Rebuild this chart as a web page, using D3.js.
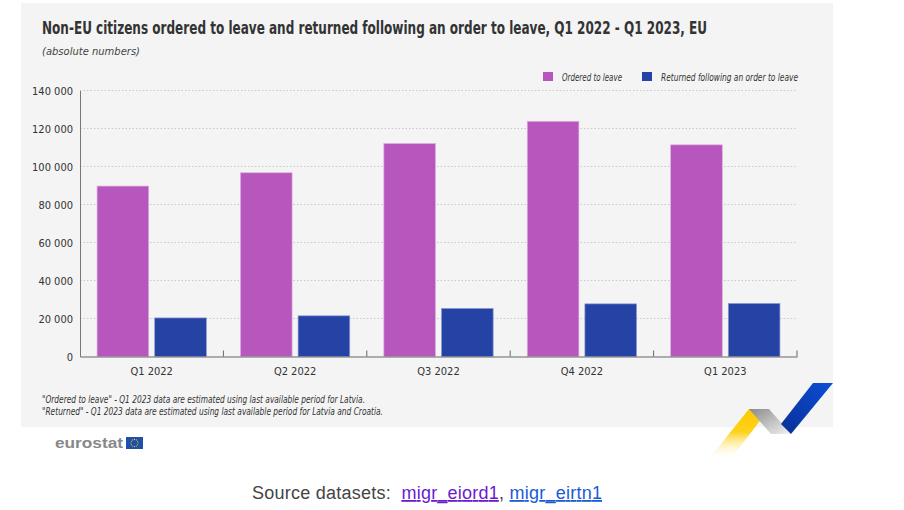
<!DOCTYPE html>
<html>
<head>
  <title>Ordered to leave</title>
  <script type="text/javascript" src="https://d3js.org/d3.v7.min.js"></script>
  <style>
    body { margin: 0; background: #fff; }
  </style>
</head>
<body>
  <div id="container"></div>
  <script type="text/javascript">
    var categories = ['Q1 2022', 'Q2 2022', 'Q3 2022', 'Q4 2022', 'Q1 2023'];
    var seriesNames = ['Ordered to leave', 'Returned following an order to leave'];
    var ordered = [89700, 96700, 112100, 123800, 111400];
    var returned = [20300, 21400, 25300, 27700, 27900];
    var yTicks = [0, 20000, 40000, 60000, 80000, 100000, 120000, 140000];
    var notes = [
      '"Ordered to leave" - Q1 2023 data are estimated using last available period for Latvia.',
      '"Returned" - Q1 2023 data are estimated using last available period for Latvia and Croatia.'
    ];

    var colours = ['#b756bc', '#2543a5'];
    var cond = "'Liberation Sans Narrow','DejaVu Sans Condensed',sans-serif";

    function drawGraph() {
      var svg = d3.select('#container').append('svg')
        .attr('width', 904).attr('height', 510);

      // grey panel
      svg.append('rect').attr('x', 21).attr('y', 3).attr('width', 812).attr('height', 424)
        .attr('fill', '#f4f4f4');

      svg.append('text').attr('x', 42).attr('y', 34)
        .attr('font-family', cond).attr('font-weight', 'bold').attr('font-size', 17)
        .attr('fill', '#333')
        .attr('textLength', 665).attr('lengthAdjust', 'spacingAndGlyphs')
        .text('Non-EU citizens ordered to leave and returned following an order to leave, Q1 2022 - Q1 2023, EU');

      svg.append('text').attr('x', 42).attr('y', 55)
        .attr('font-family', cond).attr('font-style', 'italic').attr('font-size', 11)
        .attr('fill', '#444')
        .attr('textLength', 98).attr('lengthAdjust', 'spacingAndGlyphs')
        .text('(absolute numbers)');

      var y = d3.scaleLinear().domain([0, 140000]).range([356.5, 90.5]);
      var x0 = d3.scaleBand().domain(categories).range([80, 797]);
      var x1 = d3.scaleBand().domain(seriesNames).range([0, x0.bandwidth()])
        .paddingInner(0.104).paddingOuter(0.296);

      // gridlines
      svg.append('g').selectAll('line').data(yTicks.slice(1)).enter().append('line')
        .attr('x1', 80).attr('x2', 797)
        .attr('y1', d => y(d)).attr('y2', d => y(d))
        .attr('stroke', '#c8c8c8').attr('stroke-width', 1).attr('stroke-dasharray', '1.5,2');

      // y axis
      var yAxis = svg.append('g').attr('transform', 'translate(80,0)')
        .call(d3.axisLeft(y).tickValues(yTicks).tickSize(0).tickPadding(7)
          .tickFormat(d => d3.format(',')(d).replace(/,/g, ' ')));
      yAxis.select('.domain').attr('stroke', '#777');
      yAxis.selectAll('text').attr('font-family', cond).attr('font-size', 11).attr('fill', '#333');

      // bars
      var groups = svg.append('g').selectAll('g').data(categories).enter().append('g')
        .attr('transform', d => `translate(${x0(d)},0)`);
      groups.selectAll('rect')
        .data((d, i) => [ordered[i], returned[i]].map((v, j) => ({key: seriesNames[j], value: v, j: j})))
        .enter().append('rect')
        .attr('x', d => x1(d.key))
        .attr('width', x1.bandwidth())
        .attr('y', d => y(d.value))
        .attr('height', d => y(0) - y(d.value))
        .attr('fill', d => colours[d.j])
        .attr('stroke', d => d.j == 0 ? '#dcb0de' : '#8c9ad0').attr('stroke-width', 0.7);

      // x axis
      var xAxis = svg.append('g').attr('transform', `translate(0,${y(0)})`)
        .call(d3.axisBottom(x0).tickSize(0).tickPadding(11));
      xAxis.select('.domain').attr('stroke', '#666');
      xAxis.selectAll('text').attr('font-family', cond).attr('font-size', 11).attr('fill', '#333');
      xAxis.selectAll('line.sep').data(categories.slice(1).concat(['end'])).enter().append('line')
        .attr('class', 'sep')
        .attr('x1', (d, i) => i < categories.length - 1 ? x0(d) : x0.range()[1])
        .attr('x2', (d, i) => i < categories.length - 1 ? x0(d) : x0.range()[1])
        .attr('y1', 0).attr('y2', -6)
        .attr('stroke', '#666');

      // legend
      var legendX = [543, 642];
      var legendW = [60, 137];
      seriesNames.forEach(function (name, i) {
        svg.append('rect').attr('x', legendX[i]).attr('y', 72).attr('width', 10).attr('height', 9)
          .attr('fill', colours[i]);
        svg.append('text').attr('x', legendX[i] + 19).attr('y', 81)
          .attr('font-family', cond).attr('font-style', 'italic').attr('font-size', 10)
          .attr('fill', '#333')
          .attr('textLength', legendW[i]).attr('lengthAdjust', 'spacingAndGlyphs')
          .text(name);
      });

      // footnotes
      var noteW = [323, 341];
      notes.forEach(function (n, i) {
        svg.append('text').attr('x', 42).attr('y', 403 + i * 12)
          .attr('font-family', cond).attr('font-style', 'italic').attr('font-size', 10)
          .attr('fill', '#333')
          .attr('textLength', noteW[i]).attr('lengthAdjust', 'spacingAndGlyphs')
          .text(n);
      });

      // ribbon decoration
      var defs = svg.append('defs');
      var gy = defs.append('linearGradient').attr('id', 'gy').attr('x1', 0).attr('y1', 0).attr('x2', 0).attr('y2', 1);
      gy.append('stop').attr('offset', '0%').attr('stop-color', '#ffc800');
      gy.append('stop').attr('offset', '45%').attr('stop-color', '#ffd21a');
      gy.append('stop').attr('offset', '100%').attr('stop-color', '#fff').attr('stop-opacity', 0);
      var gg = defs.append('linearGradient').attr('id', 'gg').attr('x1', 0).attr('y1', 0).attr('x2', 1).attr('y2', 1);
      gg.append('stop').attr('offset', '0%').attr('stop-color', '#8a8a8a');
      gg.append('stop').attr('offset', '100%').attr('stop-color', '#f2f2f2');
      var gb = defs.append('linearGradient').attr('id', 'gb').attr('x1', 1).attr('y1', 0).attr('x2', 0).attr('y2', 1);
      gb.append('stop').attr('offset', '0%').attr('stop-color', '#0b4fd6');
      gb.append('stop').attr('offset', '100%').attr('stop-color', '#0a2f94');
      var line = d3.line();
      svg.append('path').attr('d', line([[708, 460], [730, 460], [769, 409], [749, 409]]) + 'Z').attr('fill', 'url(#gy)');
      svg.append('path').attr('d', line([[749, 409], [769, 409], [791, 434], [771, 434]]) + 'Z').attr('fill', 'url(#gg)');
      svg.append('path').attr('d', line([[813, 383], [833, 383], [791, 434], [781, 424]]) + 'Z').attr('fill', 'url(#gb)');

      // eurostat logo
      svg.append('text').attr('x', 55).attr('y', 448)
        .attr('font-family', "'Liberation Sans',Arial,sans-serif").attr('font-weight', 'bold').attr('font-size', 15)
        .attr('fill', '#86888b')
        .attr('textLength', 68).attr('lengthAdjust', 'spacingAndGlyphs')
        .text('eurostat');
      svg.append('rect').attr('x', 126).attr('y', 437).attr('width', 17).attr('height', 12).attr('fill', '#1f4fa8');
      svg.append('g').selectAll('circle').data(d3.range(12)).enter().append('circle')
        .attr('cx', d => 134.5 + 3.6 * Math.cos(d * Math.PI / 6))
        .attr('cy', d => 443 + 3.6 * Math.sin(d * Math.PI / 6))
        .attr('r', 0.55).attr('fill', '#ffd400');

      // source line
      var src = svg.append('text').attr('x', 252).attr('y', 499)
        .attr('font-family', "'Liberation Sans',Arial,sans-serif").attr('font-size', 18).attr('fill', '#444')
        .attr('textLength', 350).attr('lengthAdjust', 'spacing');
      src.append('tspan').text('Source datasets:\u00a0 ');
      src.append('tspan').attr('fill', '#6a1ad0').attr('text-decoration', 'underline').text('migr_eiord1');
      src.append('tspan').text(', ');
      src.append('tspan').attr('fill', '#1a5bd6').attr('text-decoration', 'underline').text('migr_eirtn1');
    }

    drawGraph();
  </script>
</body>
</html>
